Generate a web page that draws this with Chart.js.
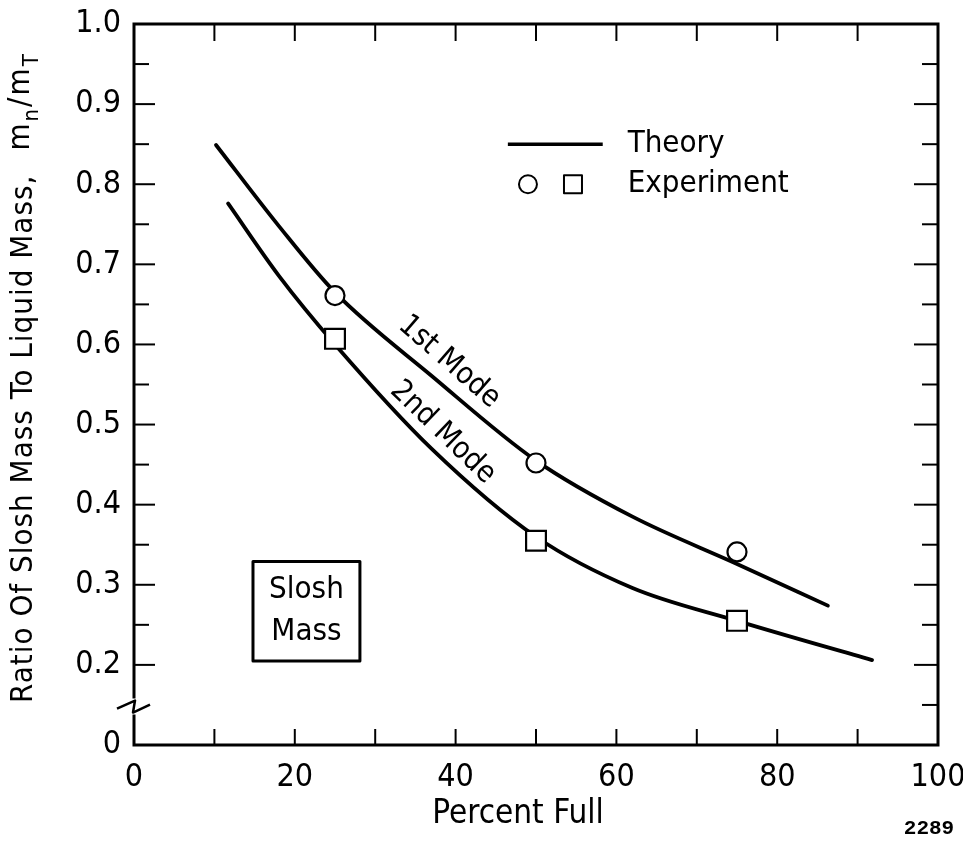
<!DOCTYPE html>
<html>
<head>
<meta charset="utf-8">
<script src="https://cdn.jsdelivr.net/npm/chart.js@4.4.1/dist/chart.umd.min.js"></script>
<style>
  body { margin: 0; background: #fff; }
  canvas { display: block; }
</style>
</head>
<body>
<canvas id="sloshChart" width="963" height="852"></canvas>
<script>
// Theory curves (percent full -> m_n / m_T)
const mode1X = [10.2, 18, 25, 37, 50, 62, 75, 86.3];
const mode1Y = [0.849, 0.748, 0.665, 0.561, 0.455, 0.385, 0.326, 0.274];
const mode2X = [11.7, 18, 25, 37, 50, 62, 75, 91.8];
const mode2Y = [0.776, 0.686, 0.600, 0.470, 0.360, 0.296, 0.255, 0.206];

// Test points
const expX = [25, 50, 75];
const exp1Y = [0.661, 0.452, 0.341];
const exp2Y = [0.607, 0.355, 0.255];

// Axis labelling
const xLabelValues = [0, 20, 40, 60, 80, 100];
const yLabelValues = [0.2, 0.3, 0.4, 0.5, 0.6, 0.7, 0.8, 0.9, 1.0];
const yBreakValue = 0.1;   // bottom of the broken axis, labelled "0"

const FONT = '"DejaVu Sans Condensed", "DejaVu Sans", sans-serif';

function pts(xs, ys) {
    return xs.map((x, i) => ({ x: x, y: ys[i] }));
}

function line(ctx, x1, y1, x2, y2) {
    ctx.beginPath();
    ctx.moveTo(x1, y1);
    ctx.lineTo(x2, y2);
    ctx.stroke();
}

function text(ctx, str, x, y, size, align, angle) {
    ctx.save();
    ctx.translate(x, y);
    if (angle) ctx.rotate(angle);
    ctx.font = size + 'px ' + FONT;
    ctx.textAlign = align || 'center';
    ctx.textBaseline = 'middle';
    ctx.fillStyle = '#000';
    ctx.fillText(str, 0, 0);
    ctx.restore();
}

const frameAndNotes = {
    id: 'frameAndNotes',
    afterDatasetsDraw(chart) {
        const { ctx, chartArea: a, scales: { x, y } } = chart;
        ctx.save();
        ctx.strokeStyle = '#000';
        ctx.fillStyle = '#000';

        // inward tick marks on all four sides
        ctx.lineWidth = 2;
        x.ticks.forEach(t => {
            if (t.value <= 0 || t.value >= 100) return;
            const px = x.getPixelForValue(t.value);
            line(ctx, px, a.bottom, px, a.bottom - 16);
            line(ctx, px, a.top, px, a.top + 17);
        });
        y.ticks.forEach(t => {
            const v = Math.round(t.value * 100);
            if (v <= 10 || v >= 100) return;
            const py = y.getPixelForValue(t.value);
            const major = v % 10 === 0;
            if (v > 15) line(ctx, a.left, py, a.left + (major ? 21 : 15), py);
            line(ctx, a.right, py, a.right - (major ? 24 : 16), py);
        });

        // frame, with the left side broken near the bottom
        const bTop = y.getPixelForValue(0.158);
        const bBot = y.getPixelForValue(0.138);
        ctx.lineWidth = 3;
        ctx.lineJoin = 'miter';
        ctx.beginPath();
        ctx.moveTo(a.left, bTop);
        ctx.lineTo(a.left, a.top);
        ctx.lineTo(a.right, a.top);
        ctx.lineTo(a.right, a.bottom);
        ctx.lineTo(a.left, a.bottom);
        ctx.lineTo(a.left, bBot);
        ctx.stroke();

        // break symbol
        ctx.lineWidth = 2.5;
        ctx.lineJoin = 'round';
        ctx.beginPath();
        ctx.moveTo(a.left - 17, bTop + 10);
        ctx.lineTo(a.left + 1, bTop + 2);
        ctx.lineTo(a.left - 1, bBot - 2);
        ctx.lineTo(a.left + 16, bBot - 10);
        ctx.stroke();

        // legend
        const ly1 = y.getPixelForValue(0.85);
        const ly2 = y.getPixelForValue(0.80);
        ctx.lineWidth = 3.5;
        line(ctx, x.getPixelForValue(46.5), ly1, x.getPixelForValue(58.3), ly1);
        ctx.lineWidth = 2;
        ctx.fillStyle = '#fff';
        ctx.beginPath();
        ctx.arc(x.getPixelForValue(49), ly2, 9, 0, Math.PI * 2);
        ctx.fill();
        ctx.stroke();
        const sx = x.getPixelForValue(54.6);
        ctx.fillRect(sx - 9, ly2 - 9, 18, 18);
        ctx.strokeRect(sx - 9, ly2 - 9, 18, 18);
        ctx.fillStyle = '#000';
        text(ctx, 'Theory', x.getPixelForValue(61.4), ly1, 31, 'left');
        text(ctx, 'Experiment', x.getPixelForValue(61.4), ly2, 31, 'left');

        // boxed caption
        const bx1 = x.getPixelForValue(14.8), bx2 = x.getPixelForValue(28.1);
        const by1 = y.getPixelForValue(0.329), by2 = y.getPixelForValue(0.205);
        ctx.lineWidth = 3;
        ctx.strokeRect(bx1, by1, bx2 - bx1, by2 - by1);
        text(ctx, 'Slosh', (bx1 + bx2) / 2, y.getPixelForValue(0.293), 31);
        text(ctx, 'Mass', (bx1 + bx2) / 2, y.getPixelForValue(0.241), 31);

        // curve labels
        text(ctx, '1st Mode', x.getPixelForValue(39.2), y.getPixelForValue(0.578), 30, 'center', 41 * Math.PI / 180);
        text(ctx, '2nd Mode', x.getPixelForValue(38.4), y.getPixelForValue(0.490), 30, 'center', 44 * Math.PI / 180);

        // axis titles
        text(ctx, 'Percent Full', (a.left + a.right) / 2 - 18, 814, 33);

        ctx.save();
        ctx.translate(24, 703);
        ctx.rotate(-Math.PI / 2);
        ctx.textAlign = 'left';
        ctx.textBaseline = 'middle';
        ctx.fillStyle = '#000';
        ctx.letterSpacing = '1px';
        ctx.font = '31px ' + FONT;
        let cx = 0;
        const main = 'Ratio Of Slosh Mass To Liquid Mass,';
        ctx.fillText(main, cx, 0);
        cx += ctx.measureText(main).width + 24;
        const parts = [['m', 31, -3], ['n', 22, 8], ['/', 31, -3], ['m', 31, -3], ['T', 22, 8]];
        parts.forEach(p => {
            ctx.font = p[1] + 'px ' + FONT;
            ctx.fillText(p[0], cx, p[2]);
            cx += ctx.measureText(p[0]).width + 1;
        });
        ctx.restore();

        ctx.font = 'bold 21px "Liberation Mono", "DejaVu Sans Mono", monospace';
        ctx.textAlign = 'center';
        ctx.textBaseline = 'middle';
        ctx.fillStyle = '#000';
        ctx.fillText('2289', 929, 829);

        ctx.restore();
    }
};

new Chart(document.getElementById('sloshChart'), {
    type: 'scatter',
    data: {
        datasets: [
            {
                label: 'Experiment, 1st mode',
                data: pts(expX, exp1Y),
                pointStyle: 'circle',
                pointRadius: 9.5,
                borderWidth: 2.2,
                borderColor: '#000',
                backgroundColor: '#fff',
                order: 0
            },
            {
                label: 'Experiment, 2nd mode',
                data: pts(expX, exp2Y),
                pointStyle: 'rect',
                pointRadius: 14,
                borderWidth: 2.2,
                borderColor: '#000',
                backgroundColor: '#fff',
                order: 0
            },
            {
                label: 'Theory, 1st mode',
                data: pts(mode1X, mode1Y),
                showLine: true,
                pointRadius: 0,
                borderColor: '#000',
                borderWidth: 3.8,
                cubicInterpolationMode: 'monotone',
                borderCapStyle: 'round',
                order: 1
            },
            {
                label: 'Theory, 2nd mode',
                data: pts(mode2X, mode2Y),
                showLine: true,
                pointRadius: 0,
                borderColor: '#000',
                borderWidth: 3.8,
                cubicInterpolationMode: 'monotone',
                borderCapStyle: 'round',
                order: 1
            }
        ]
    },
    options: {
        responsive: false,
        animation: false,
        layout: { padding: { top: 24, right: 25, left: 0, bottom: 0 } },
        plugins: {
            legend: { display: false },
            tooltip: { enabled: false }
        },
        scales: {
            x: {
                type: 'linear',
                min: 0,
                max: 100,
                grid: { display: false, drawTicks: false },
                border: { display: false },
                ticks: {
                    stepSize: 10,
                    autoSkip: false,
                    maxRotation: 0,
                    padding: 13,
                    color: '#000',
                    font: { family: FONT, size: 32 },
                    callback: v => xLabelValues.includes(v) ? String(v) : ''
                },
                afterFit: s => {
                    s.height = 107;
                    s.paddingLeft = 0;
                    s.paddingRight = 0;
                }
            },
            y: {
                type: 'linear',
                min: yBreakValue,
                max: 1.0,
                grid: { display: false, drawTicks: false },
                border: { display: false },
                ticks: {
                    stepSize: 0.05,
                    autoSkip: false,
                    padding: 13,
                    color: '#000',
                    font: { family: FONT, size: 32 },
                    callback: v => {
                        const r = Math.round(v * 100) / 100;
                        if (Math.abs(r - yBreakValue) < 1e-6) return '0';
                        return yLabelValues.some(l => Math.abs(l - r) < 1e-6) ? r.toFixed(1) : '';
                    }
                },
                afterFit: s => {
                    s.width = 134;
                    s.paddingTop = 0;
                    s.paddingBottom = 0;
                }
            }
        }
    },
    plugins: [frameAndNotes]
});
</script>
</body>
</html>
